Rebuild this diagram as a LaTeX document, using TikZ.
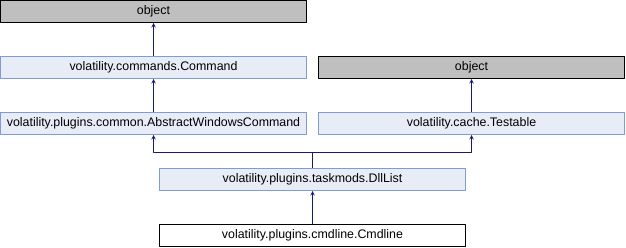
\documentclass[tikz,border=0pt]{standalone}
\usepackage{fontspec}
\setmainfont{Liberation Sans}
\definecolor{clsfill}{HTML}{E8ECF6}
\definecolor{clsline}{HTML}{7F9BD2}
\definecolor{extfill}{HTML}{BFBFBF}
\definecolor{edgeblue}{HTML}{191970}
\begin{document}
\begin{tikzpicture}[x=1pt, y=-1pt, font=\fontsize{12.4}{14}\selectfont, line join=round, >=stealth,
	cls/.style={draw=clsline, fill=clsfill, line width=1pt, minimum width=306pt, minimum height=22pt, inner sep=0pt},
	ext/.style={cls, draw=black, fill=extfill},
	cur/.style={cls, draw=black, fill=white},
	inh/.style={->, draw=edgeblue, line width=1pt}]
	\useasboundingbox (0,0) rectangle (626,248);
	\def\xl{153.5} \def\xr{471.5} \def\xm{312.5}
	% class boxes
	\node[ext] (objA) at (\xl, 11.5) {object};
	\node[cls] (command) at (\xl, 67.5) {volatility.commands.Command};
	\node[cls] (abswin) at (\xl, 123.5) {volatility.plugins.common.AbstractWindowsCommand};
	\node[ext] (objB) at (\xr, 67.5) {object};
	\node[cls] (testable) at (\xr, 123.5) {volatility.cache.Testable};
	\node[cls] (dlllist) at (\xm, 179.5) {volatility.plugins.taskmods.DllList};
	\node[cur] (cmdline) at (\xm, 235.5) {volatility.plugins.cmdline.Cmdline};
	% inheritance
	\draw[inh] (command.north) -- (objA.south);
	\draw[inh] (abswin.north) -- (command.south);
	\draw[inh] (testable.north) -- (objB.south);
	\coordinate (fork) at (\xm, 153);
	\draw[edgeblue, line width=1pt] (dlllist.north) -- (fork);
	\draw[inh] (fork) -| (abswin.south);
	\draw[inh] (fork) -| (testable.south);
	\draw[inh] (cmdline.north) -- (dlllist.south);
\end{tikzpicture}
\end{document}
